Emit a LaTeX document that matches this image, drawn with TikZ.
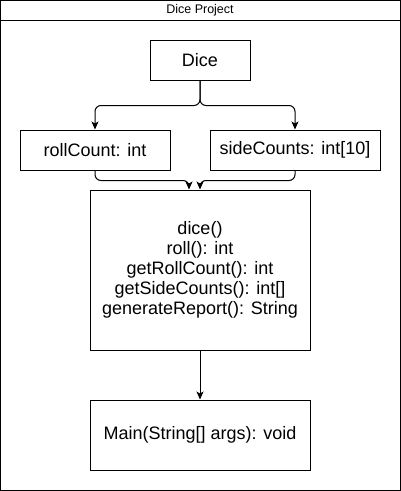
\documentclass[tikz,border=0pt]{standalone}
\usepackage{fontspec}
\setmainfont{Liberation Sans}
\usetikzlibrary{arrows.meta}
\tikzset{
  box/.style={draw, line width=1pt, inner sep=0pt, align=center,
    font=\fontsize{18}{20}\selectfont},
  conn/.style={draw, line width=1pt, rounded corners=6pt,
    -{Stealth[length=8pt,width=7pt,inset=2pt]}},
}
\begin{document}
\begin{tikzpicture}[x=1pt,y=-1pt]
\useasboundingbox (0,0) rectangle (401,491);
% outer frame with title bar
\draw[line width=1pt] (0.5,0.5) rectangle (400,490);
\draw[line width=1pt] (0.5,20) -- (400,20);
\node[font=\fontsize{12.5}{14}\selectfont] (title) at (200,10.5) {Dice Project};
% nodes
\node[box, minimum width=100pt, minimum height=40pt] (dice) at (200,60) {Dice};
\node[box, minimum width=150pt, minimum height=40pt] (roll) at (95,150) {rollCount: int};
\node[box, minimum width=170pt, minimum height=40pt] (side) at (295,150) {sideCounts: int[10]};
\node[box, minimum width=220pt, minimum height=160pt] (big) at (200,270)
  {dice()\\roll(): int\\getRollCount(): int\\getSideCounts(): int[]\\generateReport(): String};
\node[box, minimum width=220pt, minimum height=70pt] (main) at (200,435) {Main(String[] args): void};
% connectors
\draw[conn] (dice.south) -- ++(0,25) -| (roll.north);
\draw[conn] (dice.south) -- ++(0,25) -| (side.north);
\draw[conn] (roll.south) -- ++(0,10) -| ([xshift=-11pt]big.north);
\draw[conn] (side.south) -- ++(0,10) -| (big.north);
\draw[conn] (big.south) -- (main.north);
\end{tikzpicture}
\end{document}
